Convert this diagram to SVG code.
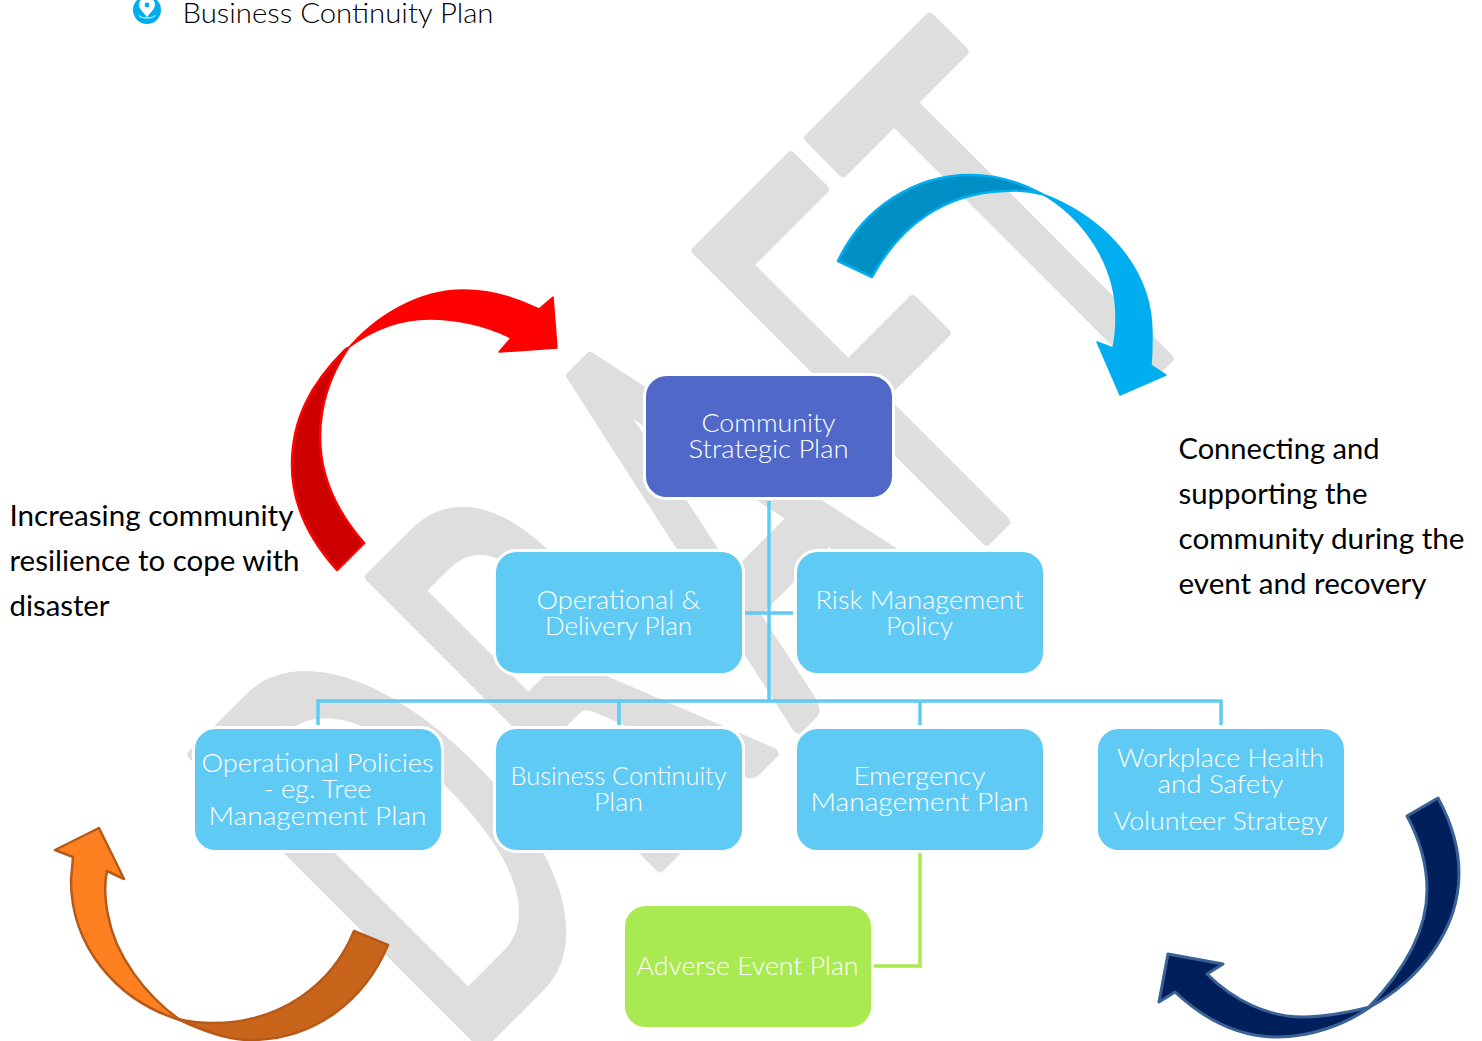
<svg xmlns="http://www.w3.org/2000/svg" width="1482" height="1041" viewBox="0 0 1482 1041">
<style>
.wm{font-family:"Lato","Liberation Sans",sans-serif;font-size:100px;fill:#dedede;stroke:#dedede;stroke-width:2px;stroke-linejoin:round}
.n{stroke:#fff;stroke-width:3px}
.blue{fill:#5fcbf4}
.lab{font-family:"Lato","Liberation Sans",sans-serif;font-weight:300;font-size:25px;fill:#fff;text-anchor:middle}
.cap{font-family:"Lato","Liberation Sans",sans-serif;font-size:29px;fill:#000}
.conn{fill:none;stroke:#5fcbf4;stroke-width:3.5px}
</style>
<text class="wm" transform="rotate(-45) translate(0 1079) scale(3.1 5.7)" x="-138 -57 15 92 151" y="0">DRAFT</text>
<g id="title">
<circle cx="147" cy="10" r="14" fill="#00aeef"/>
<path d="M147 -3C142 -3 139 1 139 5C139 9 144 13 147 17C150 13 155 9 155 5C155 1 152 -3 147 -3Z" fill="#fff"/>
<circle cx="147" cy="5" r="2.4" fill="#00aeef"/>
<path d="M139 15C139 19 155 19 155 15" fill="none" stroke="#fff" stroke-width="1"/>
<text x="182.500" y="23" textLength="311" lengthAdjust="spacingAndGlyphs" style="font-family:Lato,'Liberation Sans',sans-serif;font-weight:300;font-size:28px;fill:#000">Business Continuity Plan</text>
</g>
<g id="arrow-red">
<path d="M364 543C335 510 320 475 320 437C320 405 330 375 348 348L345 350C310 385 292 420 292 465C292 505 310 540 337 570Z" fill="#c00" stroke="#f00" stroke-width="2.5" stroke-linejoin="round"/>
<path d="M345 352C375 315 420 290 463 290C490 290 515 297 539 309L553 297L557 348L499 352L511 338C485 325 455 319 430 319C400 319 372 330 348 348Z" fill="#f00" stroke="#f00" stroke-width="1.5" stroke-linejoin="round"/>
</g>
<g id="arrow-blue">
<path d="M838 261C863 208 915 175 970 175C995 175 1020 182 1042 194C1030 191 1015 190 1004 191C945 193 900 225 872 277Z" fill="#008fc4" stroke="#00aeef" stroke-width="2.5" stroke-linejoin="round"/>
<path d="M1040 193C1100 215 1152 265 1152 333C1152 345 1152 355 1151 365L1166 375L1120 395L1097 342L1113 348C1116 335 1116 325 1116 317C1116 270 1090 225 1049 198Z" fill="#00aeef" stroke="#00aeef" stroke-width="1.5" stroke-linejoin="round"/>
</g>
<g id="arrow-orange">
<path d="M354 931C332 985 280 1023 213 1023C200 1023 190 1022 178 1019C205 1032 228 1040 250 1040C315 1040 365 1000 388 945Z" fill="#c8651b" stroke="#b85a17" stroke-width="2.5" stroke-linejoin="round"/>
<path d="M180 1020C115 1000 71 945 71 880L73 857L55 850L99 828L124 879L107 871C104 885 105 900 108 915C115 955 145 995 180 1020Z" fill="#ff8021" stroke="#b85a17" stroke-width="2.5" stroke-linejoin="round"/>
</g>
<g id="arrow-navy">
<path d="M1438 798C1451 822 1459 848 1459 873C1459 930 1420 980 1368 1008C1400 975 1427 935 1427 890C1427 865 1420 840 1407 816Z" fill="#001f5b" stroke="#3a6296" stroke-width="3" stroke-linejoin="round"/>
<path d="M1370 1007C1345 1025 1310 1037 1277 1037C1240 1037 1205 1020 1175 992L1159 1002L1168 954L1223 964L1207 974C1235 1002 1270 1017 1303 1017C1325 1017 1350 1012 1370 1007Z" fill="#001f5b" stroke="#3a6296" stroke-width="3" stroke-linejoin="round"/>
</g>
<g id="connectors">
<path class="conn" d="M769 501V701M745 613H793M318 725V701H1221V725M619 701V725M920 701V725"/>
<path class="conn" style="stroke:#a9ea52" d="M920 853V966H874"/>
</g>
<g id="n-community"><rect class="n" x="644.500" y="374.500" width="249" height="124" rx="22" fill="#5068c8"/>
<text class="lab"><tspan x="768.500" y="432" textLength="134" lengthAdjust="spacingAndGlyphs">Community</tspan><tspan x="768.500" y="458" textLength="160" lengthAdjust="spacingAndGlyphs">Strategic Plan</tspan></text></g>
<g id="n-operational"><rect class="n blue" x="494.500" y="550.500" width="249" height="124" rx="22"/>
<text class="lab"><tspan x="618.500" y="609" textLength="164" lengthAdjust="spacingAndGlyphs">Operational &amp;</tspan><tspan x="618.500" y="635" textLength="147" lengthAdjust="spacingAndGlyphs">Delivery Plan</tspan></text></g>
<g id="n-risk"><rect class="n blue" x="795.500" y="550.500" width="249" height="124" rx="22"/>
<text class="lab"><tspan x="919.500" y="609" textLength="208" lengthAdjust="spacingAndGlyphs">Risk Management</tspan><tspan x="919.500" y="635" textLength="67" lengthAdjust="spacingAndGlyphs">Policy</tspan></text></g>
<g id="n-policies"><rect class="n blue" x="193.500" y="727.500" width="249" height="124" rx="22"/>
<text class="lab"><tspan x="317.500" y="772" textLength="232" lengthAdjust="spacingAndGlyphs">Operational Policies</tspan><tspan x="317.500" y="798" textLength="108" lengthAdjust="spacingAndGlyphs">- eg. Tree</tspan><tspan x="317.500" y="824.500" textLength="218" lengthAdjust="spacingAndGlyphs">Management Plan</tspan></text></g>
<g id="n-bcp"><rect class="n blue" x="494.500" y="727.500" width="249" height="124" rx="22"/>
<text class="lab"><tspan x="618.500" y="785" textLength="216" lengthAdjust="spacingAndGlyphs">Business Continuity</tspan><tspan x="618.500" y="811" textLength="49" lengthAdjust="spacingAndGlyphs">Plan</tspan></text></g>
<g id="n-emergency"><rect class="n blue" x="795.500" y="727.500" width="249" height="124" rx="22"/>
<text class="lab"><tspan x="919.500" y="785" textLength="132" lengthAdjust="spacingAndGlyphs">Emergency</tspan><tspan x="919.500" y="811" textLength="218" lengthAdjust="spacingAndGlyphs">Management Plan</tspan></text></g>
<g id="n-wh"><rect class="n blue" x="1096.500" y="727.500" width="249" height="124" rx="22"/>
<text class="lab"><tspan x="1220.500" y="767" textLength="207" lengthAdjust="spacingAndGlyphs">Workplace Health</tspan><tspan x="1220.500" y="793" textLength="126" lengthAdjust="spacingAndGlyphs">and Safety</tspan><tspan x="1220.500" y="830" textLength="214" lengthAdjust="spacingAndGlyphs">Volunteer Strategy</tspan></text></g>
<g id="n-adverse"><rect class="n" x="623.500" y="904.500" width="249" height="124" rx="22" fill="#a9ea52"/>
<text class="lab" x="747.500" y="975" textLength="222" lengthAdjust="spacingAndGlyphs">Adverse Event Plan</text></g>
<g id="caption-left"><text class="cap"><tspan x="9.500" y="526" textLength="284" lengthAdjust="spacingAndGlyphs">Increasing community</tspan><tspan x="9.500" y="571" textLength="290" lengthAdjust="spacingAndGlyphs">resilience to cope with</tspan><tspan x="9.500" y="616" textLength="100" lengthAdjust="spacingAndGlyphs">disaster</tspan></text></g>
<g id="caption-right"><text class="cap"><tspan x="1178.500" y="459" textLength="201" lengthAdjust="spacingAndGlyphs">Connecting and</tspan><tspan x="1178.500" y="504" textLength="189" lengthAdjust="spacingAndGlyphs">supporting the</tspan><tspan x="1178.500" y="549" textLength="286" lengthAdjust="spacingAndGlyphs">community during the</tspan><tspan x="1178.500" y="594" textLength="248" lengthAdjust="spacingAndGlyphs">event and recovery</tspan></text></g>
</svg>
